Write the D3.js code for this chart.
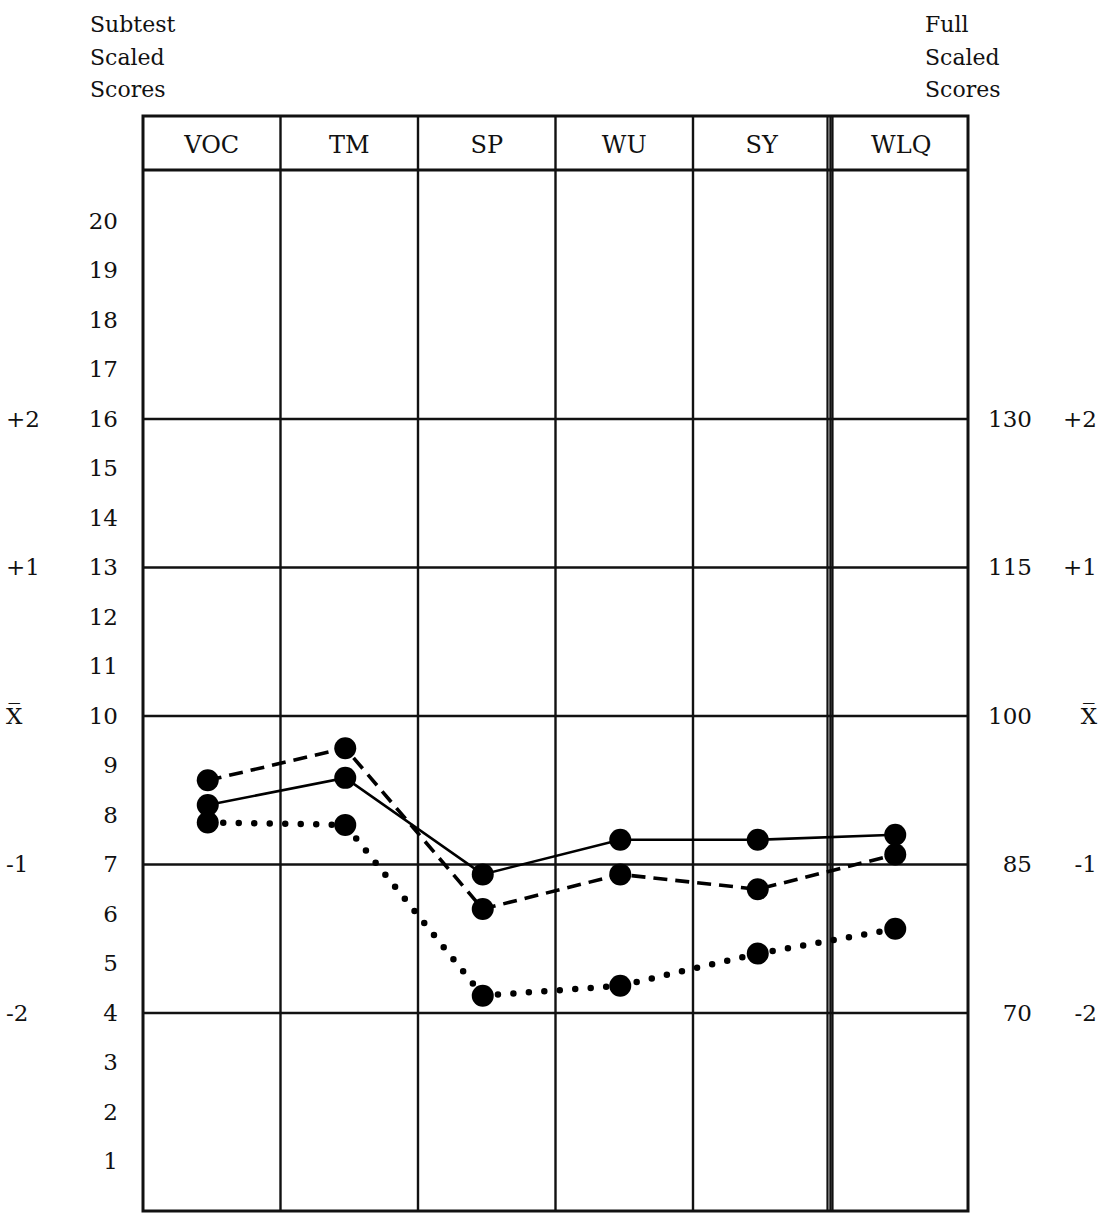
<!DOCTYPE html>
<html>
<head>
<meta charset="utf-8">
<script src="https://cdn.jsdelivr.net/npm/d3@7"></script>
<style>
  body { margin: 0; background: #fff; }
  text { font-family: "DejaVu Serif", serif; fill: #111; }
</style>
</head>
<body>
<svg id="chart"></svg>
<script>
// subtests across the top
const subtests = ['VOC', 'TM', 'SP', 'WU', 'SY', 'WLQ'];
// three profiles
const dashedScores = [8.7, 9.35, 6.1, 6.8, 6.5, 7.2];
const solidScores = [8.2, 8.75, 6.8, 7.5, 7.5, 7.6];
const dottedScores = [7.85, 7.8, 4.35, 4.55, 5.2, 5.7];
// tick labels
const subtestTicks = [1, 2, 3, 4, 5, 6, 7, 8, 9, 10, 11, 12, 13, 14, 15, 16, 17, 18, 19, 20];
const sdLevels = [16, 13, 10, 7, 4];
const sdLabels = ['+2', '+1', 'X\u0305', '-1', '-2'];
const fullTicks = [130, 115, 100, 85, 70];

const width = 1107, height = 1221;
const left = 143, right = 968, headTop = 116, plotTop = 170, bottom = 1211;

const svg = d3.select('#chart')
    .attr('width', width)
    .attr('height', height);

const x = d3.scaleBand()
    .domain(subtests)
    .range([left, right]);

const y = d3.scaleLinear()
    .domain([0, 21.03])
    .range([bottom, plotTop]);

// full scale: mean 100, 5 points per subtest point
const yFull = d3.scaleLinear()
    .domain([100 - 10 * 5, 100 + (21.03 - 10) * 5])
    .range([bottom, plotTop]);

const sdScale = d3.scaleOrdinal().domain(sdLabels).range(sdLevels.map(d => y(d)));

// titles
const titleL = svg.append('text').attr('x', 90).attr('y', 32).style('font-size', '22px');
['Subtest', 'Scaled', 'Scores'].forEach((t, i) => {
    titleL.append('tspan').attr('x', 90).attr('dy', i ? 32.5 : 0).text(t);
});
const titleR = svg.append('text').attr('x', 925).attr('y', 32).style('font-size', '22px');
['Full', 'Scaled', 'Scores'].forEach((t, i) => {
    titleR.append('tspan').attr('x', 925).attr('dy', i ? 32.5 : 0).text(t);
});

// grid
const grid = svg.append('g').attr('stroke', '#111').attr('fill', 'none');

grid.append('rect')
    .attr('x', left).attr('y', headTop)
    .attr('width', right - left).attr('height', bottom - headTop)
    .attr('stroke-width', 3);

grid.append('line')
    .attr('x1', left).attr('x2', right)
    .attr('y1', plotTop).attr('y2', plotTop)
    .attr('stroke-width', 3);

grid.selectAll('.sd-line')
    .data(sdLevels)
    .join('line')
    .attr('class', 'sd-line')
    .attr('x1', left).attr('x2', right)
    .attr('y1', d => y(d)).attr('y2', d => y(d))
    .attr('stroke-width', 2.6);

const colEdges = subtests.slice(1).map(d => x(d));
grid.selectAll('.col-line')
    .data(colEdges)
    .join('line')
    .attr('class', 'col-line')
    .attr('x1', d => d).attr('x2', d => d)
    .attr('y1', headTop).attr('y2', bottom)
    .attr('stroke-width', 2.4);

// double rule before WLQ
const wlqEdge = x('WLQ');
grid.append('line')
    .attr('x1', wlqEdge - 3).attr('x2', wlqEdge - 3)
    .attr('y1', headTop).attr('y2', bottom)
    .attr('stroke-width', 2.2);
grid.append('line')
    .attr('x1', wlqEdge + 2).attr('x2', wlqEdge + 2)
    .attr('y1', headTop).attr('y2', bottom)
    .attr('stroke-width', 2.2);

// header labels
svg.selectAll('.head')
    .data(subtests)
    .join('text')
    .attr('class', 'head')
    .attr('x', d => x(d) + x.bandwidth() / 2 + (d === 'WLQ' ? 2 : 0))
    .attr('y', 153)
    .attr('text-anchor', 'middle')
    .style('font-size', '24px')
    .text(d => d);

// axes (labels only)
function bare(g) {
    g.select('.domain').remove();
    g.selectAll('.tick line').remove();
    g.attr('font-family', null).attr('font-size', null);
    g.selectAll('text').style('font-size', '23px');
}

svg.append('g')
    .attr('transform', 'translate(118,0)')
    .call(d3.axisLeft(y).tickValues(subtestTicks).tickSize(0).tickPadding(0).tickFormat(d3.format('d')))
    .call(bare);

svg.append('g')
    .attr('transform', 'translate(1032,0)')
    .call(d3.axisLeft(yFull).tickValues(fullTicks).tickSize(0).tickPadding(0).tickFormat(d3.format('d')))
    .call(bare);

svg.append('g')
    .attr('transform', 'translate(6,0)')
    .call(d3.axisRight(sdScale).tickSize(0).tickPadding(0))
    .call(bare);

svg.append('g')
    .attr('transform', 'translate(1097,0)')
    .call(d3.axisLeft(sdScale).tickSize(0).tickPadding(0))
    .call(bare);

// profiles
const cx = d => x(d) + x.bandwidth() / 2 - 4;
const line = d3.line()
    .x((d, i) => cx(subtests[i]))
    .y(d => y(d));

const series = [
    { values: dashedScores, dash: '14,8', width: 3.6, cap: 'butt' },
    { values: solidScores, dash: null, width: 2.6, cap: 'butt' },
    { values: dottedScores, dash: '0,15.5', width: 6.5, cap: 'round' }
];

series.forEach(s => {
    svg.append('path')
        .datum(s.values)
        .attr('fill', 'none')
        .attr('stroke', '#000')
        .attr('stroke-width', s.width)
        .attr('stroke-linecap', s.cap)
        .attr('stroke-dasharray', s.dash)
        .attr('d', line);
});

series.forEach(s => {
    svg.append('g')
        .selectAll('circle')
        .data(s.values)
        .join('circle')
        .attr('cx', (d, i) => cx(subtests[i]))
        .attr('cy', d => y(d))
        .attr('r', 11)
        .attr('fill', '#000');
});
</script>
</body>
</html>
